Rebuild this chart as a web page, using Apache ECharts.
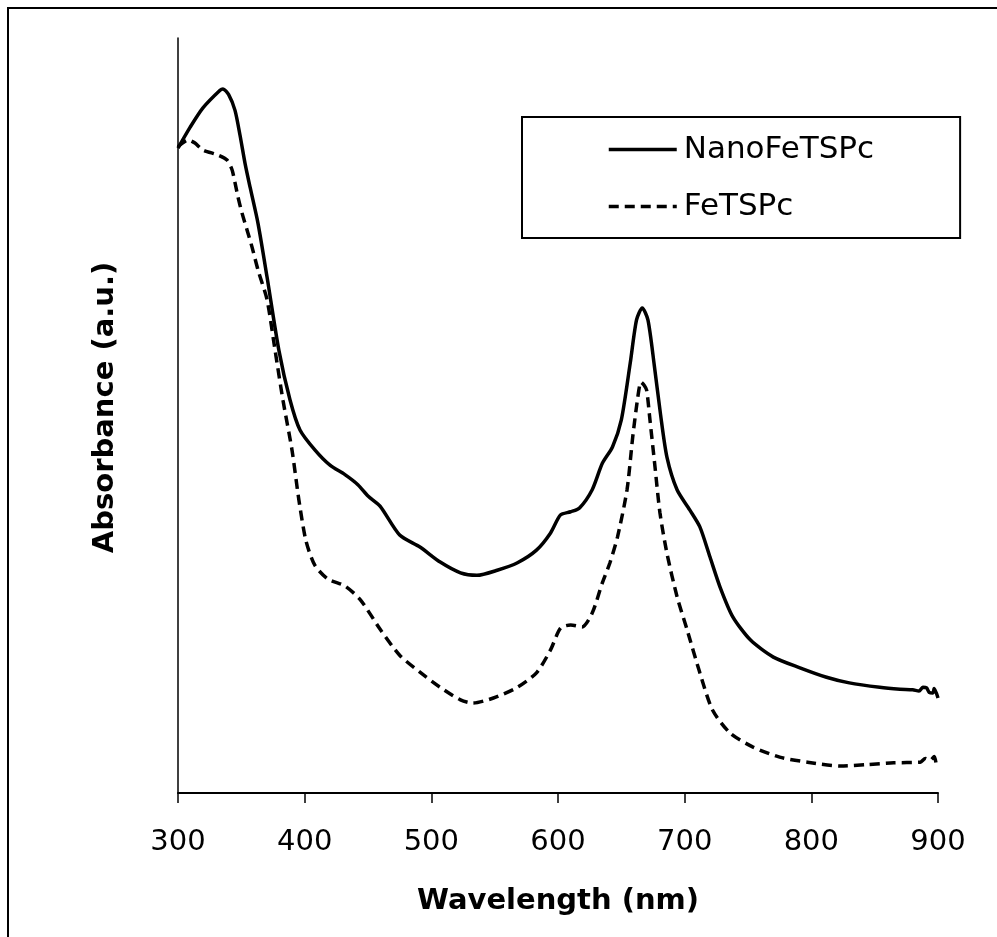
<!DOCTYPE html>
<html><head><meta charset="utf-8">
<script src="https://cdn.jsdelivr.net/npm/echarts@6/dist/echarts.min.js"></script>
<style>html,body{margin:0;padding:0;background:#fff}#c{width:997px;height:937px}</style>
</head><body><div id="c"></div>
<script>
const seriesNames = ['NanoFeTSPc', 'FeTSPc'];
const xTicks = [300, 400, 500, 600, 700, 800, 900];
const nanoWl = [300,309.5,319.7,333.2,335.5,340,345,349,353,357,363.2,370.3,379.7,388.4,396.3,408.2,420,431.8,442,450,459.5,475,491,507,523,536,552,568,583,594,602,610,617,627,635,643,650,657,662,666.5,671,676,681,686,694,704,712,720,728,738,752,770,791,812,830,854,870,880,885,888,891,893,896,897,900];
const nanoAbs = [1.025,1.058,1.089,1.117,1.119,1.110,1.085,1.045,1.000,0.962,0.905,0.820,0.703,0.625,0.577,0.545,0.521,0.506,0.490,0.472,0.456,0.410,0.391,0.367,0.350,0.346,0.354,0.366,0.386,0.413,0.442,0.447,0.453,0.482,0.524,0.550,0.593,0.683,0.752,0.771,0.752,0.680,0.601,0.534,0.482,0.450,0.423,0.375,0.327,0.280,0.243,0.216,0.199,0.184,0.175,0.168,0.165,0.164,0.162,0.168,0.167,0.160,0.159,0.166,0.151];
const feWl = [300,307.9,313.4,319.7,331.6,338.7,342.6,345,347.4,350.5,354.5,358.4,363.2,370.3,376.6,382.9,390,395.5,401,408,418.4,431.8,444,460,475,491,507,523,533,549,568,583,594,602,610,619,627,635,641,647,654.5,659,663,665.5,668,670,672.6,676.6,680.5,686,694,702,712,722,736,754,775,797,823,844,865,886,890,894,897,899];
const feAbs = [1.027,1.038,1.033,1.022,1.014,1.006,0.991,0.970,0.947,0.922,0.895,0.868,0.831,0.784,0.704,0.624,0.545,0.465,0.401,0.362,0.340,0.329,0.307,0.259,0.219,0.192,0.168,0.148,0.143,0.151,0.168,0.191,0.227,0.262,0.267,0.264,0.286,0.334,0.366,0.407,0.482,0.566,0.629,0.653,0.648,0.640,0.593,0.518,0.445,0.381,0.312,0.259,0.191,0.132,0.095,0.073,0.057,0.049,0.043,0.045,0.048,0.049,0.055,0.052,0.058,0.040];
const xTitle = 'Wavelength (nm)';
const yTitle = 'Absorbance (a.u.)';

const pair = (xs, ys) => xs.map((x, i) => [x, ys[i]]);
const chart = echarts.init(document.getElementById('c'), null, {renderer: 'canvas'});
const F = 'DejaVu Sans, Verdana, sans-serif';
chart.setOption({
  animation: false,
  backgroundColor: '#fff',
  graphic: [{type: 'rect', shape: {x: 8, y: 8, width: 1000, height: 1000}, style: {fill: 'none', stroke: '#000', lineWidth: 2}, z: -1}],
  grid: {left: 178, right: 59, top: 38, bottom: 144},
  legend: {
    orient: 'vertical', left: 522, top: 117,
    data: seriesNames,
    borderColor: '#000', borderWidth: 2,
    padding: [17, 86, 16, 85],
    itemWidth: 68, itemHeight: 14, itemGap: 26,
    itemStyle: {opacity: 0},
    lineStyle: {width: 3.5},
    textStyle: {fontFamily: F, fontSize: 31, color: '#000', padding: [0, 0, 0, 2]}
  },
  xAxis: {
    type: 'value', min: 300, max: 900, interval: 100,
    axisLine: {lineStyle: {color: '#000', width: 2}},
    axisTick: {show: true, inside: false, length: 10, lineStyle: {color: '#000', width: 1.5}},
    axisLabel: {fontFamily: F, fontSize: 29, color: '#000', margin: 35,
      formatter: v => xTicks.includes(v) ? String(v) : ''},
    splitLine: {show: false},
    name: xTitle, nameLocation: 'middle', nameGap: 94,
    nameTextStyle: {fontFamily: F, fontSize: 29, fontWeight: 'bold', color: '#000'}
  },
  yAxis: {
    type: 'value', min: 0, max: 1.2,
    axisLine: {show: true, lineStyle: {color: '#000', width: 1.5}},
    axisTick: {show: false}, axisLabel: {show: false}, splitLine: {show: false},
    name: yTitle, nameLocation: 'middle', nameGap: 58, nameRotate: 90,
    nameTextStyle: {fontFamily: F, fontSize: 29, fontWeight: 'bold', color: '#000', padding: [0, 0, 0, 16]}
  },
  series: [
    {name: seriesNames[0], type: 'line', data: pair(nanoWl, nanoAbs), symbol: 'none', smooth: 0.25,
     lineStyle: {color: '#000', width: 3.5}, itemStyle: {color: '#000'}},
    {name: seriesNames[1], type: 'line', data: pair(feWl, feAbs), symbol: 'none', smooth: 0.25,
     lineStyle: {color: '#000', width: 3.5, type: [10, 6]}, itemStyle: {color: '#000'}}
  ]
});
</script></body></html>
